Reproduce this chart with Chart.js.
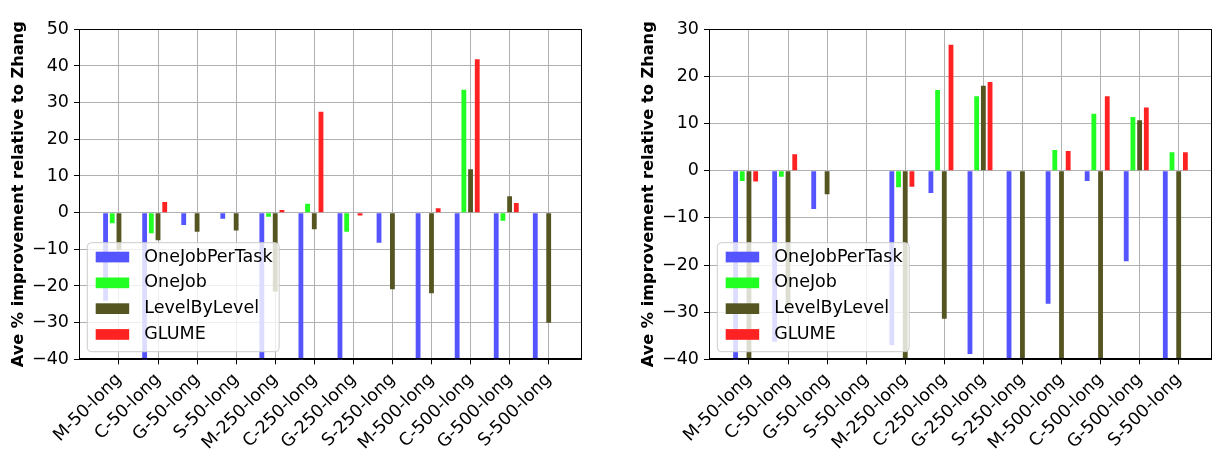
<!DOCTYPE html>
<html>
<head>
<meta charset="utf-8">
<script src="https://cdn.jsdelivr.net/npm/chart.js@4.4.0/dist/chart.umd.min.js"></script>
<style>
  body { margin: 0; background: #fff; }
  canvas { position: absolute; top: 0; }
  #left { left: 0; }
  #right { left: 630px; }
</style>
</head>
<body>
<canvas id="left" width="587" height="455"></canvas>
<canvas id="right" width="587" height="455"></canvas>
<script>
const categories = ["M-50-long","C-50-long","G-50-long","S-50-long","M-250-long","C-250-long",
                    "G-250-long","S-250-long","M-500-long","C-500-long","G-500-long","S-500-long"];

const seriesNames = ["OneJobPerTask","OneJob","LevelByLevel","GLUME"];
const seriesColors = ["#5555ff","#22ff22","#555522","#ff2222"];

// left panel (bars below -40 are cut off by the axis)
const leftOneJobPerTask = [-24,-55,-3.4,-1.7,-55,-55,-55,-8.2,-55,-55,-55,-55];
const leftOneJob        = [-2.9,-5.6,null,null,-1.1,2.4,-5.2,null,null,33.5,-2.2,null];
const leftLevelByLevel  = [-10.2,-7.5,-5.2,-4.9,-21.5,-4.5,null,-20.9,-22,11.8,4.5,-30];
const leftGLUME         = [null,2.9,null,null,0.7,27.5,-0.8,null,1.2,41.8,2.6,null];
const leftYTicks = [-40,-30,-20,-10,0,10,20,30,40,50];

// right panel
const rightOneJobPerTask = [-55,-36.3,-8.1,null,-37,-4.7,-38.9,-55,-28.2,-2.2,-19.2,-55];
const rightOneJob        = [-2.2,-1.3,null,null,-3.5,17.1,15.8,null,4.4,12.1,11.4,3.9];
const rightLevelByLevel  = [-55,-29,-5.0,null,-55,-31.4,18.0,-55,-55,-55,10.7,-55];
const rightGLUME         = [-2.3,3.5,null,null,-3.4,26.7,18.8,null,4.2,15.8,13.4,3.9];
const rightYTicks = [-40,-30,-20,-10,0,10,20,30];

const yTitle = "Ave % improvement relative to Zhang";

Chart.defaults.font.family = "'DejaVu Sans', sans-serif";
Chart.defaults.color = "#000";

// legend box inside the plot, lower left, plus the full axes frame
const boxLegend = {
    id: "boxLegend",
    afterDraw(chart) {
        const ctx = chart.ctx, a = chart.chartArea;
        const items = chart.data.datasets.filter(d => d.label);
        ctx.save();
        ctx.strokeStyle = "#000";
        ctx.lineWidth = 1;
        ctx.strokeRect(Math.round(a.left) + 0.5, Math.round(a.top) + 0.5,
                       Math.round(a.right - a.left) - 1, Math.round(a.bottom - a.top) - 1);
        ctx.font = "17.5px 'DejaVu Sans'";
        const tw = Math.max(...items.map(d => ctx.measureText(d.label).width));
        const w = 8.4 + 33.5 + 14.7 + tw + 7, h = 109;
        const x = a.left + 8.3, y = a.bottom - 7.6 - h;
        ctx.beginPath();
        ctx.roundRect(x, y, w, h, 4);
        ctx.fillStyle = "rgba(255,255,255,0.8)";
        ctx.fill();
        ctx.strokeStyle = "#cccccc";
        ctx.stroke();
        ctx.textBaseline = "middle";
        items.forEach((d, i) => {
            const cy = y + 14.3 + i * 25.8;
            ctx.fillStyle = d.backgroundColor;
            ctx.fillRect(x + 8.4, cy - 5.3, 33.5, 10.7);
            ctx.fillStyle = "#000";
            ctx.fillText(d.label, x + 57, cy);
        });
        ctx.restore();
    }
};

function makeChart(id, seriesValues, yTicks) {
    const datasets = seriesValues.map((vals, s) => ({
        label: seriesNames[s],
        data: vals.map((v, i) => ({x: i, y: v})),
        backgroundColor: seriesColors[s],
    }));
    // empty fifth slot so the LevelByLevel bar sits on the tick
    datasets.push({label: "", data: categories.map((c, i) => ({x: i, y: null}))});

    return new Chart(document.getElementById(id), {
        type: "bar",
        data: {datasets: datasets},
        plugins: [boxLegend],
        options: {
            responsive: false,
            animation: false,
            categoryPercentage: 0.857,
            barPercentage: 0.72,
            layout: {padding: {top: 29.3, left: 4.6, right: 5.5, bottom: 0}},
            plugins: {legend: {display: false}, tooltip: {enabled: false}},
            scales: {
                x: {
                    type: "linear",
                    offset: false,
                    min: -1.023,
                    max: 11.84,
                    z: 1,
                    afterBuildTicks: s => { s.ticks = categories.map((c, i) => ({value: i})); },
                    afterFit: s => { s.height = 95.7; },
                    grid: {offset: false, color: "#b0b0b0", tickColor: "#000", tickLength: 5},
                    border: {color: "#000"},
                    ticks: {
                        autoSkip: false,
                        minRotation: 45,
                        maxRotation: 45,
                        padding: 5,
                        font: {size: 17.5},
                        callback: v => categories[v],
                    },
                },
                y: {
                    min: yTicks[0],
                    max: yTicks[yTicks.length - 1],
                    z: 1,
                    afterBuildTicks: s => { s.ticks = yTicks.map(v => ({value: v})); },
                    afterFit: s => { s.width = 74.4; },
                    grid: {color: "#b0b0b0", tickColor: "#000", tickLength: 5},
                    border: {color: "#000"},
                    title: {display: true, text: yTitle, font: {size: 16.2, weight: "bold"}, padding: {top: 4, bottom: 4}},
                    ticks: {
                        padding: 5,
                        font: {size: 17.5},
                        callback: v => String(v).replace("-", "\u2212"),
                    },
                },
            },
        },
    });
}

makeChart("left", [leftOneJobPerTask, leftOneJob, leftLevelByLevel, leftGLUME], leftYTicks);
makeChart("right", [rightOneJobPerTask, rightOneJob, rightLevelByLevel, rightGLUME], rightYTicks);
</script>
</body>
</html>
